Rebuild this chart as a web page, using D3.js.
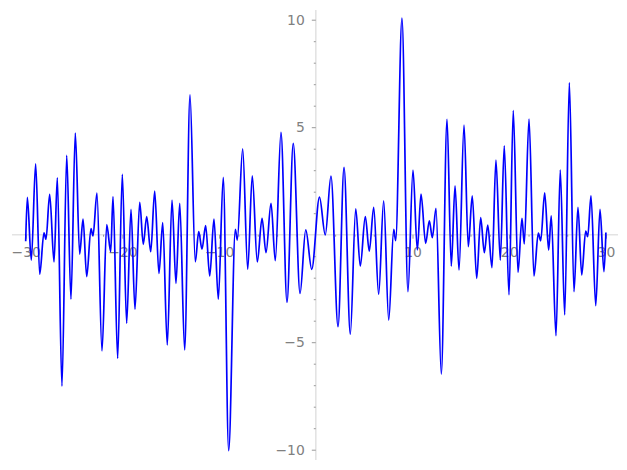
<!DOCTYPE html>
<html>
<head>
<meta charset="utf-8">
<script src="https://cdn.jsdelivr.net/npm/d3@7"></script>
<style>
  body { margin: 0; background: #fff; }
  svg { display: block; }
</style>
</head>
<body>
<div id="chart"></div>
<script>
// curve values (local peaks / troughs, left to right)
var curveX = [-30, -29.83, -29.42, -28.97, -28.55, -28.11, -27.90, -27.52, -27.07, -26.73,
    -26.25, -25.76, -25.32, -24.87, -24.42, -24.07, -23.69, -23.25, -23.04, -22.63,
    -22.11, -21.62, -21.21, -20.97, -20.49, -20.01, -19.56, -19.11, -18.70, -18.21,
    -17.84, -17.49, -17.07, -16.66, -16.22, -15.83, -15.36, -14.87, -14.46, -14.07,
    -13.56, -13.01, -12.46, -12.11, -11.77, -11.39, -10.97, -10.53, -10.08, -9.57,
    -9.01, -8.32, -8.12, -7.56, -7.04, -6.57, -6.05, -5.56, -5.15, -4.63,
    -4.19, -3.60, -2.98, -2.33, -1.63, -1.04, -0.42, 0.38, 0.98, 1.57,
    2.30, 2.92, 3.57, 4.13, 4.60, 5.12, 5.53, 5.99, 6.50, 7.02,
    7.54, 8.06, 8.26, 8.91, 9.53, 10.05, 10.50, 10.88, 11.36, 11.74,
    12.05, 12.43, 12.98, 13.57, 14.01, 14.40, 14.81, 15.33, 15.77, 16.18,
    16.64, 17.05, 17.43, 17.78, 18.22, 18.63, 19.08, 19.49, 19.98, 20.42,
    20.91, 21.32, 21.56, 22.05, 22.56, 23.01, 23.26, 23.67, 24.08, 24.35,
    24.84, 25.28, 25.74, 26.22, 26.70, 27.11, 27.50, 27.91, 28.12, 28.46,
    28.95, 29.39, 29.80, 30];
var curveY = [-0.30, 1.74, -1.18, 3.29, -1.84, 0.09, -0.21, 1.88, -1.27, 2.65,
    -7.04, 3.69, -3.00, 4.72, -0.90, 0.72, -1.95, 0.28, -0.06, 1.93,
    -5.40, 0.47, -0.79, 1.77, -5.75, 2.81, -4.12, 1.18, -3.47, 1.51,
    -0.45, 0.84, -0.79, 2.03, -1.80, 0.56, -5.13, 1.61, -2.26, 1.46,
    -5.36, 6.50, -1.26, 0.14, -0.67, 0.42, -1.92, 0.72, -3.00, 2.67,
    -10.05, 0.25, -0.25, 3.99, -1.60, 2.74, -1.27, 0.76, -0.84, 1.46,
    -1.21, 4.76, -3.14, 4.25, -2.73, 0.22, -1.61, 1.75, -0.01, 2.73,
    -4.28, 3.13, -4.63, 1.20, -1.46, 0.84, -0.76, 1.27, -2.77, 1.58,
    -3.97, 0.25, -0.28, 10.07, -2.65, 3.01, -0.71, 1.89, -0.40, 0.65,
    -0.14, 1.23, -6.48, 5.37, -1.46, 2.27, -1.64, 5.10, -0.56, 1.81,
    -2.03, 0.79, -0.84, 0.45, -1.53, 3.47, -1.18, 4.13, -2.80, 5.77,
    -1.75, 0.76, -0.43, 5.38, -1.92, 0.07, -0.28, 1.95, -0.71, 0.88,
    -4.70, 3.01, -3.73, 7.07, -2.65, 1.27, -1.87, 0.17, -0.09, 1.81,
    -3.30, 1.18, -1.72, 0.10];

// tick values
var xMajorTicks = [-30, -20, -10, 10, 20, 30];
var xMinorTicks = [-28, -26, -24, -22, -18, -16, -14, -12, -8, -6, -4, -2,
    2, 4, 6, 8, 12, 14, 16, 18, 22, 24, 26, 28];
var yMajorTicks = [-10, -5, 5, 10];
var yMinorTicks = [-9, -8, -7, -6, -4, -3, -2, -1, 1, 2, 3, 4, 6, 7, 8, 9];

var svgWidth = 627;
var svgHeight = 470;

var svg = d3.select("#chart").append("svg")
    .attr("width", svgWidth)
    .attr("height", svgHeight);

// scales
var xScale = d3.scaleLinear().domain([-30, 30]).range([25.7, 605.9]);
var yScale = d3.scaleLinear().domain([-10, 10]).range([449.7, 19.7]);

var axisColor = "#e3e3e3";
var tickColor = "#999";
var labelColor = "#808080";
var font = "DejaVu Sans, sans-serif";

// axis lines
svg.append("line")
    .attr("x1", 12).attr("x2", 618)
    .attr("y1", yScale(0)).attr("y2", yScale(0))
    .attr("stroke", axisColor).attr("stroke-width", 1.6);

svg.append("line")
    .attr("x1", xScale(0)).attr("x2", xScale(0))
    .attr("y1", 10).attr("y2", 460)
    .attr("stroke", axisColor).attr("stroke-width", 1.6);

// x axis ticks + labels
var xAxis = svg.append("g")
    .attr("transform", `translate(0, ${yScale(0)})`)
    .call(d3.axisBottom(xScale).tickValues(xMajorTicks).tickSize(4).tickPadding(8));

var xMinor = svg.append("g")
    .attr("transform", `translate(0, ${yScale(0)})`)
    .call(d3.axisBottom(xScale).tickValues(xMinorTicks).tickSize(2).tickFormat(""));

// y axis ticks + labels
var yAxis = svg.append("g")
    .attr("transform", `translate(${xScale(0)}, 0)`)
    .call(d3.axisLeft(yScale).tickValues(yMajorTicks).tickSize(4).tickPadding(7));

var yMinor = svg.append("g")
    .attr("transform", `translate(${xScale(0)}, 0)`)
    .call(d3.axisLeft(yScale).tickValues(yMinorTicks).tickSize(2).tickFormat(""));

[xAxis, xMinor, yAxis, yMinor].forEach(function (g) {
    g.select(".domain").remove();
    g.selectAll(".tick line").attr("stroke", tickColor).attr("stroke-width", 1);
    g.selectAll(".tick text")
        .attr("fill", labelColor)
        .attr("font-family", font)
        .attr("font-size", "13.9px");
});

// the curve
var points = curveX.map(function (d, i) { return [d, curveY[i]]; });

var line = d3.line()
    .x(d => xScale(d[0]))
    .y(d => yScale(d[1]))
    .curve(d3.curveMonotoneX);

svg.append("path")
    .datum(points)
    .attr("d", line)
    .attr("fill", "none")
    .attr("stroke", "#0000ff")
    .attr("stroke-width", 1.7)
    .attr("stroke-linejoin", "round");
</script>
</body>
</html>
